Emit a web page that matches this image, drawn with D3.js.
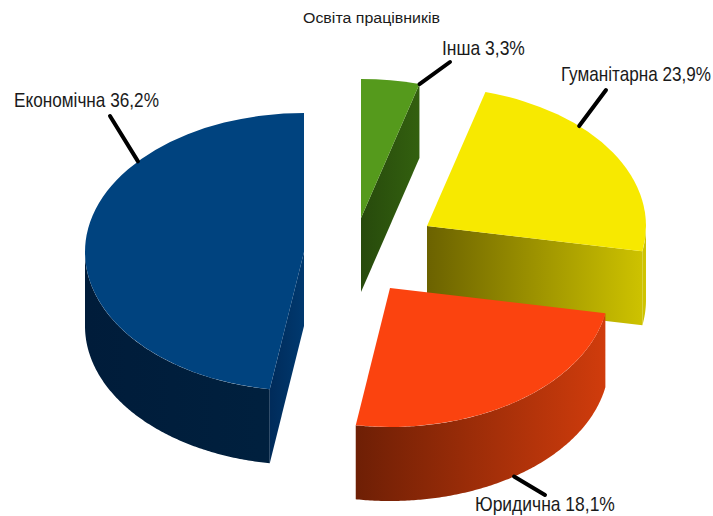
<!DOCTYPE html>
<html>
<head>
<meta charset="utf-8">
<script src="https://cdn.jsdelivr.net/npm/d3@7"></script>
<style>
    html, body { margin: 0; padding: 0; background: #fff; }
    svg { display: block; }
    text { fill: #1a1a1a; font-family: "Liberation Sans", sans-serif; }
    .title { font-size: 14px; }
    .label { font-size: 20px; }
</style>
</head>
<body>
<div id="graphContainer"></div>
<script>
var chartTitle = "Освіта працівників";
var categories = ["Інша", "Гуманітарна", "Юридична", "Економічна"];
var printedPercent = ["3,3%", "23,9%", "18,1%", "36,2%"];
// the slices are not drawn to the printed numbers, so this is the share of the circle as read off the picture
var drawnShare = [4.3, 23.6, 24.6, 47.5];

var topColors = ["#559a1c", "#f7e900", "#fb430f", "#00437f"];
var wallStops = [
    ["#274a0c", "#33600f"],
    ["#6b6200", "#cfc400"],
    ["#6e1f05", "#d03c0c"],
    ["#001c3a", "#00213f"]
];

// where the exploded slices sit, and where the callouts go
var centers = [[361, 218], [427, 226], [390, 288], [304, 252]];
var calloutAngle = [15.5, 44, 145.5, 310.7];
var calloutEnd = [[450, 62], [606, 90], [545, 495], [110, 116]];
var labelPos = [[442, 55], [561, 81], [475, 511], [14, 107]];
// the reference font is narrower than anything installed, so the text gets squeezed to these widths
var labelWidth = [83, 150, 140, 145];

var width = 713,
    height = 516,
    rx = 219,
    ry = 139,
    depth = 74;

var svg = d3.select("#graphContainer").append("svg")
    .attr("width", width)
    .attr("height", height);

var defs = svg.append("defs");

var cutGrad = defs.append("linearGradient").attr("id", "cutBlue");
cutGrad.append("stop").attr("offset", "0%").attr("stop-color", "#002b5a");
cutGrad.append("stop").attr("offset", "100%").attr("stop-color", "#00396f");

var pie = d3.pie().sort(null).value(function (d) { return d; });
var slices = pie(drawnShare);

var arc = d3.arc().innerRadius(0).outerRadius(rx);
var polygon = d3.line();
var rad = Math.PI / 180;

//angle is clockwise from the top of the ellipse
function px(i, a) { return centers[i][0] + rx * Math.sin(a); }
function py(i, a) { return centers[i][1] - ry * Math.cos(a); }

//one gradient over the whole width of a slice, so the cut side and the round side join up
function wallGradient(i, steps) {
    var xs = steps.map(function (a) { return px(i, a); }).concat([centers[i][0]]);
    var ext = d3.extent(xs);
    var grad = defs.append("linearGradient")
        .attr("id", "wall" + i)
        .attr("gradientUnits", "userSpaceOnUse")
        .attr("x1", ext[0])
        .attr("x2", ext[1])
        .attr("y1", 0)
        .attr("y2", 0);
    grad.append("stop").attr("offset", "0%").attr("stop-color", wallStops[i][0]);
    grad.append("stop").attr("offset", "100%").attr("stop-color", wallStops[i][1]);
}

//squeeze a text sideways around its own start point
function fitWidth(sel, x, y, w) {
    var natural = sel.node().getComputedTextLength();
    sel.attr("transform", "translate(" + [x, y] + ") scale(" + (w / natural) + ",1)");
}

//blue goes first and orange last, it overlaps the yellow wall
var drawOrder = [3, 0, 1, 2];

drawOrder.forEach(function (i) {
    var s = slices[i];
    var g = svg.append("g").attr("class", "slice");
    var cx = centers[i][0], cy = centers[i][1];

    //outer wall, only the part in the front half of the ellipse
    var a0 = Math.max(s.startAngle, Math.PI / 2),
        a1 = Math.min(s.endAngle, Math.PI * 1.5);
    var steps = a1 > a0 ? d3.range(a0, a1, 0.01).concat([a1]) : [s.endAngle];
    wallGradient(i, steps);

    if (a1 > a0) {
        var wall = d3.area()
            .x(function (a) { return px(i, a); })
            .y0(function (a) { return py(i, a); })
            .y1(function (a) { return py(i, a) + depth; });
        g.append("path")
            .attr("d", wall(steps))
            .attr("fill", "url(#wall" + i + ")");
    }

    //flat cut side facing the viewer
    if (s.endAngle < Math.PI) {
        var ex = px(i, s.endAngle), ey = py(i, s.endAngle);
        g.append("path")
            .attr("d", polygon([[cx, cy], [ex, ey], [ex, ey + depth], [cx, cy + depth]]) + "Z")
            .attr("fill", "url(#wall" + i + ")");
    }
    if (s.startAngle > Math.PI) {
        var sx = px(i, s.startAngle), sy = py(i, s.startAngle);
        g.append("path")
            .attr("d", polygon([[cx, cy], [sx, sy], [sx, sy + depth], [cx, cy + depth]]) + "Z")
            .attr("fill", "url(#cutBlue)");
    }

    //top face is a normal d3 arc squashed into an ellipse
    g.append("path")
        .attr("d", arc(s))
        .attr("transform", "translate(" + [cx, cy] + ") scale(1," + (ry / rx) + ")")
        .attr("fill", topColors[i]);
});

//callout lines
categories.forEach(function (c, i) {
    var a = calloutAngle[i] * rad;
    var front = Math.cos(a) < 0;
    svg.append("line")
        .attr("x1", px(i, a))
        .attr("y1", py(i, a) + (front ? depth : 0))
        .attr("x2", calloutEnd[i][0])
        .attr("y2", calloutEnd[i][1])
        .attr("stroke", "#000")
        .attr("stroke-width", 4)
        .attr("stroke-linecap", "round");

    svg.append("text")
        .attr("class", "label")
        .text(c + " " + printedPercent[i])
        .call(fitWidth, labelPos[i][0], labelPos[i][1], labelWidth[i]);
});

svg.append("text")
    .attr("class", "title")
    .text(chartTitle)
    .call(fitWidth, 303, 23, 137);
</script>
</body>
</html>
